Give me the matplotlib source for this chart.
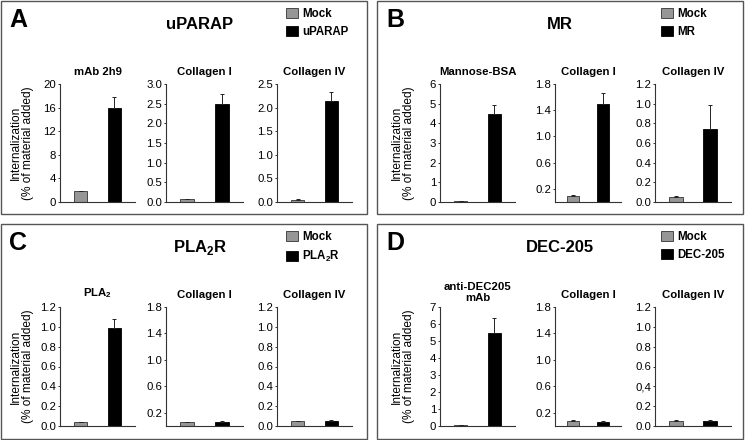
# -*- coding: utf-8 -*-
import matplotlib
matplotlib.use('Agg')
import matplotlib.pyplot as plt
from matplotlib.patches import Rectangle

plt.rcParams['font.family'] = ['Liberation Sans', 'DejaVu Sans']
plt.rcParams['mathtext.fontset'] = 'custom'
plt.rcParams['mathtext.rm'] = 'Liberation Sans'
plt.rcParams['mathtext.bf'] = 'Liberation Sans:bold'

# ---- data ----
letters = ['A', 'B', 'C', 'D']
receptors = ['uPARAP', 'MR', r'PLA$_\mathbf{2}$R', 'DEC-205']
substrates = [
    ['mAb 2h9', 'Collagen I', 'Collagen IV'],
    ['Mannose-BSA', 'Collagen I', 'Collagen IV'],
    [r'PLA$_\mathbf{2}$', 'Collagen I', 'Collagen IV'],
    ['anti-DEC205\nmAb', 'Collagen I', 'Collagen IV'],
]
mock = [[1.8, 0.07, 0.05], [0.05, 0.09, 0.05],
        [0.04, 0.06, 0.05], [0.03, 0.075, 0.054]]
mock_err = [[0.1, 0.01, 0.01], [0.01, 0.012, 0.01],
            [0.005, 0.005, 0.005], [0.005, 0.01, 0.006]]
rec = [[15.9, 2.48, 2.15], [4.48, 1.49, 0.74],
       [0.985, 0.065, 0.055], [5.48, 0.066, 0.054]]
rec_err = [[1.9, 0.27, 0.19], [0.44, 0.17, 0.25],
           [0.095, 0.005, 0.005], [0.85, 0.008, 0.005]]

ticks_20 = ['0', '4', '8', '12', '16', '20']
ticks_30 = ['0.0', '0.5', '1.0', '1.5', '2.0', '2.5', '3.0']
ticks_25 = ['0.0', '0.5', '1.0', '1.5', '2.0', '2.5']
ticks_6 = ['0', '1', '2', '3', '4', '5', '6']
ticks_7 = ['0', '1', '2', '3', '4', '5', '6', '7']
ticks_18 = ['0.2', '0.6', '1.0', '1.4', '1.8']
ticks_12 = ['0.0', '0.2', '0.4', '0.6', '0.8', '1.0', '1.2']
ticks_12c = ['0.0', '0.2', '0,4', '0.6', '0.8', '1.0', '1.2']
ymax = [[20, 3.0, 2.5], [6, 1.8, 1.2], [1.2, 1.8, 1.2], [7, 1.8, 1.2]]
yticklabels = [
    [ticks_20, ticks_30, ticks_25],
    [ticks_6, ticks_18, ticks_12],
    [ticks_12, ticks_18, ticks_12],
    [ticks_7, ticks_18, ticks_12c],
]

# ---- layout (pixels) ----
W, H = 745, 440
MOCK_C = '#969696'

fig = plt.figure(figsize=(W / 100, H / 100), dpi=100)


def fx(x):
    return x / W


def fy(y):
    return 1 - y / H


boxes = [(1, 1, 367, 214), (377, 1, 743, 214),
         (1, 224, 367, 439), (377, 224, 743, 439)]
ax_x = [[(60, 135), (166, 243), (277, 352)],
        [(440, 515), (555, 621), (655, 731)]]
ax_y = [(84, 202), (307, 426)]

for p in range(4):
    col = p % 2
    row = p // 2
    x0, y0, x1, y1 = boxes[p]
    fig.add_artist(Rectangle((fx(x0), fy(y1)), fx(x1 - x0), (y1 - y0) / H,
                             transform=fig.transFigure, fill=False,
                             edgecolor='#555555', linewidth=1.0))
    fig.text(fx(x0 + 8 + 1 * col), fy(y0 + 26), letters[p], fontsize=18,
             fontweight='bold', ha='left', va='baseline')
    fig.text(fx(200 + 360 * col), fy(y0 + 28), receptors[p], fontsize=12,
             fontweight='bold', ha='center', va='baseline')

    ya, yb = ax_y[row]
    fig.text(fx(22 + 381 * col), fy((ya + yb) / 2),
             'Internalization\n(% of material added)', rotation=90,
             ha='center', va='center', fontsize=8.6, linespacing=1.0)

    handles = None
    for k in range(3):
        xa, xb = ax_x[col][k]
        ax = fig.add_axes([fx(xa), fy(yb), (xb - xa) / W, (yb - ya) / H])
        b1 = ax.bar(0, mock[p][k], width=0.4, color=MOCK_C,
                    edgecolor='#333333', linewidth=0.6,
                    yerr=[[0], [mock_err[p][k]]], capsize=1.5,
                    error_kw=dict(elinewidth=0.7, capthick=0.7, ecolor='#222222'))
        b2 = ax.bar(1, rec[p][k], width=0.4, color='black',
                    edgecolor='black', linewidth=0.6,
                    yerr=[[0], [rec_err[p][k]]], capsize=1.5,
                    error_kw=dict(elinewidth=0.7, capthick=0.7, ecolor='#222222'))
        if handles is None:
            handles = [b1, b2]
        labels = yticklabels[p][k]
        ax.set_yticks([float(s.replace(',', '.')) for s in labels])
        ax.set_yticklabels(labels)
        ax.set_ylim(0, ymax[p][k])
        ax.set_xlim(-0.62, 1.62)
        ax.set_xticks([])
        for s in ['top', 'right']:
            ax.spines[s].set_visible(False)
        for s in ['left', 'bottom']:
            ax.spines[s].set_color('#333333')
            ax.spines[s].set_linewidth(0.8)
        ax.tick_params(axis='y', length=1.8, width=0.7, pad=1.0,
                       labelsize=8.2, color='#333333')
        two_line = '\n' in substrates[p][k]
        ax.set_title(substrates[p][k], fontsize=8.2, fontweight='bold',
                     va='bottom', pad=3.2 if two_line else 5.3,
                     linespacing=1.05)

    leg = fig.legend(handles, ['Mock', receptors[p]], loc='upper left',
                     bbox_to_anchor=(fx(286 + 375 * col), fy(y0 + 7)),
                     frameon=False, fontsize=8.3, handlelength=1.0,
                     handleheight=1.0, handletextpad=0.4, labelspacing=0.5,
                     borderpad=0, borderaxespad=0)
    for t in leg.get_texts():
        t.set_fontweight('bold')

fig.savefig('out.png', dpi=100)
